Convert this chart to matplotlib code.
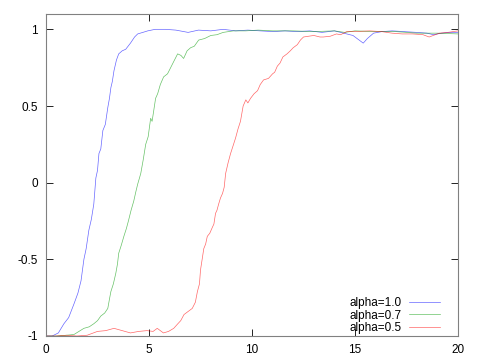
import matplotlib
matplotlib.use("Agg")
import matplotlib.pyplot as plt

# valores
blue_x = [0, 0.3, 0.6, 0.87, 1.1, 1.36, 1.55, 1.7, 1.84, 1.95,
          2.08, 2.2, 2.32, 2.42, 2.5, 2.57, 2.66, 2.76, 2.88, 3.0,
          3.08, 3.15, 3.22, 3.3, 3.42, 3.53, 3.7, 3.87, 4.1, 4.3,
          4.45, 4.7, 4.94, 5.3, 5.8, 6.3, 6.9, 7.4, 8, 8.6,
          9.2, 9.8, 10.4, 11, 11.6, 12.2, 12.8, 13.4, 14, 14.6,
          14.9, 15.2, 15.4, 15.6, 15.9, 16.3, 16.8, 17.4, 18, 18.5,
          18.8, 19.2, 19.6, 20]
blue_y = [-1, -1, -0.98, -0.92, -0.88, -0.79, -0.72, -0.64, -0.5, -0.43,
          -0.31, -0.24, -0.14, 0.03, 0.08, 0.19, 0.22, 0.34, 0.38, 0.49,
          0.55, 0.62, 0.66, 0.73, 0.8, 0.84, 0.86, 0.87, 0.91, 0.95,
          0.97, 0.98, 0.99, 1.0, 1.0, 0.995, 0.98, 0.995, 0.99, 1.0,
          0.99, 0.995, 0.99, 0.985, 0.99, 0.985, 0.99, 0.98, 0.99, 0.97,
          0.96, 0.93, 0.91, 0.94, 0.975, 0.985, 0.99, 0.985, 0.98, 0.975,
          0.965, 0.975, 0.98, 0.98]

green_x = [0, 0.5, 1.0, 1.36, 1.6, 1.84, 2.1, 2.32, 2.5, 2.66,
           2.85, 3.0, 3.08, 3.15, 3.27, 3.39, 3.47, 3.53, 3.65, 3.78,
           3.9, 4.0, 4.13, 4.26, 4.36, 4.45, 4.6, 4.72, 4.84, 4.96,
           5.08, 5.15, 5.23, 5.32, 5.42, 5.55, 5.71, 5.9, 6.05, 6.2,
           6.39, 6.55, 6.68, 6.85, 7.02, 7.2, 7.41, 7.7, 8.0, 8.3,
           8.6, 9.1, 9.7, 10.3, 11, 12, 13, 14, 14.5, 15,
           16, 17, 18, 19, 20]
green_y = [-1, -1, -0.995, -0.99, -0.97, -0.95, -0.94, -0.92, -0.9, -0.87,
           -0.85, -0.82, -0.76, -0.71, -0.66, -0.59, -0.53, -0.46, -0.41, -0.35,
           -0.3, -0.25, -0.18, -0.12, -0.06, -0.01, 0.06, 0.15, 0.25, 0.3,
           0.42, 0.4, 0.47, 0.55, 0.58, 0.64, 0.69, 0.71, 0.75, 0.79,
           0.84, 0.83, 0.81, 0.86, 0.88, 0.89, 0.93, 0.94, 0.96, 0.965,
           0.98, 0.99, 0.99, 0.995, 0.99, 0.99, 0.985, 0.99, 0.98, 0.99,
           0.985, 0.985, 0.975, 0.975, 0.97]

red_x = [0, 0.5, 1.0, 1.5, 2.0, 2.3, 2.5, 2.9, 3.3, 3.7,
         4.1, 4.5, 4.9, 5.2, 5.4, 5.7, 5.95, 6.2, 6.4, 6.54,
         6.7, 6.9, 7.1, 7.25, 7.35, 7.45, 7.5, 7.58, 7.66, 7.75,
         7.83, 7.95, 8.08, 8.15, 8.23, 8.3, 8.38, 8.47, 8.57, 8.65,
         8.72, 8.84, 8.96, 9.08, 9.2, 9.32, 9.44, 9.57, 9.7, 9.8,
         9.93, 10.1, 10.27, 10.4, 10.56, 10.8, 11.0, 11.1, 11.23, 11.36,
         11.5, 11.7, 11.86, 12.0, 12.2, 12.35, 12.5, 12.75, 13.0, 13.3,
         13.46, 13.8, 14.1, 14.3, 14.6, 15.0, 15.7, 16.3, 16.8, 17.3,
         17.8, 18.3, 18.6, 18.8, 19.1, 19.5, 20]
red_y = [-1, -1, -0.995, -1, -0.995, -0.98, -0.97, -0.965, -0.95, -0.965,
         -0.98, -0.97, -0.965, -0.97, -0.95, -0.98, -0.97, -0.95, -0.92, -0.9,
         -0.86, -0.84, -0.82, -0.78, -0.71, -0.66, -0.57, -0.5, -0.43, -0.4,
         -0.35, -0.33, -0.29, -0.27, -0.2, -0.18, -0.14, -0.1, -0.07, -0.03,
         0.06, 0.13, 0.19, 0.24, 0.29, 0.35, 0.4, 0.5, 0.54, 0.52,
         0.55, 0.58, 0.6, 0.64, 0.67, 0.68, 0.71, 0.72, 0.76, 0.78,
         0.82, 0.84, 0.86, 0.88, 0.9, 0.93, 0.95, 0.955, 0.96, 0.95,
         0.95, 0.955, 0.97, 0.965, 0.985, 0.985, 0.99, 0.985, 0.975, 0.97,
         0.97, 0.965, 0.95, 0.96, 0.975, 0.98, 0.99]

labels = ["alpha=1.0", "alpha=0.7", "alpha=0.5"]
x_ticks = [0, 5, 10, 15, 20]
y_ticks = [-1, -0.5, 0, 0.5, 1]
y_tick_labels = ["-1", "-0.5", "0", "0.5", "1"]

plt.rcParams["font.family"] = ["Liberation Sans", "DejaVu Sans"]

fig = plt.figure(figsize=(4.8, 3.6), dpi=100)
ax = fig.add_axes([46 / 480, 24 / 360, 412 / 480, 322 / 360])

ax.plot(blue_x, blue_y, color="#0000ff", lw=0.5, alpha=0.6, label=labels[0])
ax.plot(green_x, green_y, color="#009900", lw=0.5, alpha=0.6, label=labels[1])
ax.plot(red_x, red_y, color="#ff0000", lw=0.5, alpha=0.6, label=labels[2])

ax.set_xlim(0, 20)
ax.set_ylim(-1, 1.1)
ax.set_xticks(x_ticks)
ax.set_xticklabels([str(t) for t in x_ticks])
ax.set_yticks(y_ticks)
ax.set_yticklabels(y_tick_labels)
ax.tick_params(direction="in", length=5, width=0.6, top=True, right=True,
               labelsize=8.5, pad=6, colors="black")
for s in ax.spines.values():
    s.set_linewidth(0.8)
    s.set_color("#808080")

ax.legend(loc="lower right", bbox_to_anchor=(0.976, -0.02), frameon=False,
          fontsize=8.5, markerfirst=False, handlelength=2.6,
          labelspacing=0.05, borderaxespad=0.3, handletextpad=0.6)

fig.savefig("out.png", dpi=100)
